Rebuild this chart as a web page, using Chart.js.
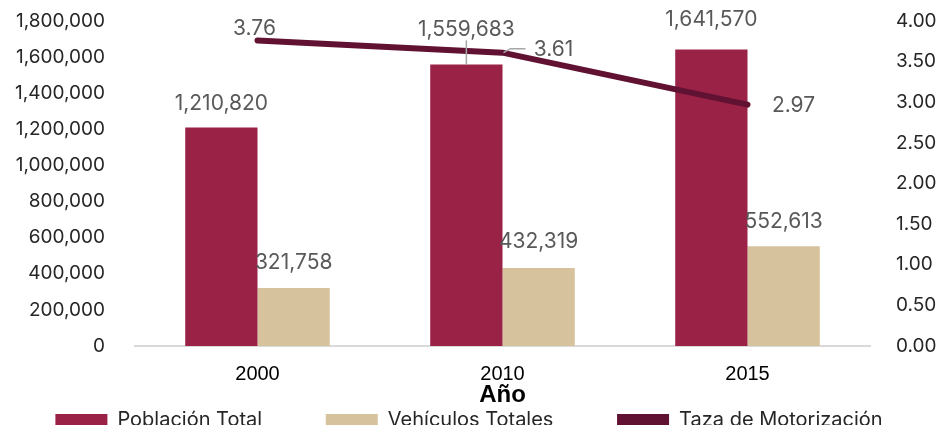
<!DOCTYPE html>
<html>
<head>
<meta charset="utf-8">
<script src="https://cdn.jsdelivr.net/npm/chart.js@4"></script>
<style>
  html, body { margin: 0; padding: 0; background: #fff; }
  #wrap { width: 938px; height: 425px; position: relative; }
</style>
</head>
<body>
<div id="wrap"><canvas id="motorChart"></canvas></div>
<script>
const years = ['2000', '2010', '2015'];
const poblacion = [1210820, 1559683, 1641570];
const vehiculos = [321758, 432319, 552613];
const tasa = [3.76, 3.61, 2.97];

const leftTicks = { min: 0, max: 1800000, step: 200000 };
const rightTicks = { min: 0, max: 4, step: 0.5 };

const tickFont = { family: 'Inter', size: 19 };
const labelFont = '21px Inter';

// label offsets (dx, dy) relative to each mark, plus optional leader line
const labelSpots = {
  0: [{ dx: 0, dy: -24 }, { dx: 0, dy: -35, leader: true }, { dx: 0, dy: -30 }],
  1: [{ dx: 0, dy: -25 }, { dx: 0, dy: -26 }, { dx: 0, dy: -25 }],
  2: [{ dx: -3, dy: -12 }, { dx: 51, dy: -3, side: true }, { dx: 46, dy: 1 }]
};

const dataLabels = {
  id: 'dataLabels',
  afterDatasetsDraw(chart) {
    const ctx = chart.ctx;
    ctx.save();
    ctx.font = labelFont;
    ctx.fillStyle = '#595959';
    ctx.textAlign = 'center';
    ctx.textBaseline = 'middle';
    chart.data.datasets.forEach((ds, di) => {
      const meta = chart.getDatasetMeta(di);
      meta.data.forEach((el, i) => {
        const spot = labelSpots[di][i];
        const v = ds.data[i];
        const txt = di === 2 ? v.toFixed(2) : v.toLocaleString('en-US');
        const x = el.x + spot.dx;
        const y = el.y + spot.dy;
        if (spot.leader) {
          ctx.strokeStyle = '#a6a6a6';
          ctx.lineWidth = 1.5;
          ctx.beginPath();
          ctx.moveTo(x, y + 11);
          ctx.lineTo(x, el.y);
          ctx.stroke();
        }
        if (spot.side) {
          ctx.strokeStyle = '#a6a6a6';
          ctx.lineWidth = 1.5;
          ctx.beginPath();
          ctx.moveTo(el.x + 1, el.y);
          ctx.lineTo(el.x + 8, el.y - 4);
          ctx.lineTo(x - 28, el.y - 4);
          ctx.stroke();
        }
        ctx.fillText(txt, x, y);
      });
    });
    ctx.restore();
  }
};

const fixSide = width => s => {
  s.width = width;
  s.paddingTop = 0;
  s.paddingBottom = 0;
};

const ctx = document.getElementById('motorChart').getContext('2d');

new Chart(ctx, {
  type: 'bar',
  data: {
    labels: years,
    datasets: [
      {
        label: 'Población Total',
        data: poblacion,
        backgroundColor: '#9B2247',
        yAxisID: 'y',
        order: 1,
        barPercentage: 1,
        categoryPercentage: 0.59
      },
      {
        label: 'Vehículos Totales',
        data: vehiculos,
        backgroundColor: '#D6C29C',
        yAxisID: 'y',
        order: 1,
        barPercentage: 1,
        categoryPercentage: 0.59
      },
      {
        type: 'line',
        label: 'Taza de Motorización',
        data: tasa,
        borderColor: '#611232',
        backgroundColor: '#611232',
        borderWidth: 6,
        borderCapStyle: 'round',
        pointRadius: 0,
        tension: 0,
        yAxisID: 'y1',
        order: 0
      }
    ]
  },
  plugins: [dataLabels],
  options: {
    responsive: true,
    maintainAspectRatio: false,
    animation: false,
    layout: {
      padding: { top: 21, bottom: -15, left: 0, right: 0 }
    },
    scales: {
      x: {
        grid: { display: false },
        border: { display: true, color: '#d9d9d9', width: 2 },
        ticks: {
          color: '#000',
          font: { family: 'Liberation Sans', size: 20 },
          padding: 8
        },
        title: {
          display: true,
          text: 'Año',
          color: '#000',
          font: { family: 'Liberation Sans', size: 24, weight: 'bold' },
          padding: { top: 0, bottom: 0 }
        },
        afterFit: s => { s.height = 64; }
      },
      y: {
        position: 'left',
        min: leftTicks.min,
        max: leftTicks.max,
        grid: { display: false },
        border: { display: false },
        ticks: {
          stepSize: leftTicks.step,
          color: '#262626',
          font: tickFont,
          padding: 22,
          callback: v => v.toLocaleString('en-US')
        },
        afterFit: fixSide(135)
      },
      y1: {
        position: 'right',
        min: rightTicks.min,
        max: rightTicks.max,
        grid: { display: false },
        border: { display: false },
        ticks: {
          stepSize: rightTicks.step,
          color: '#262626',
          font: tickFont,
          padding: 18,
          callback: v => v.toFixed(2)
        },
        afterFit: fixSide(68)
      }
    },
    plugins: {
      legend: {
        position: 'bottom',
        labels: {
          boxWidth: 52,
          boxHeight: 12,
          padding: 0,
          color: '#262626',
          font: { family: 'Inter', size: 20 },
          sort: (a, b) => a.datasetIndex - b.datasetIndex,
          generateLabels: chart => {
            const items = Chart.defaults.plugins.legend.labels.generateLabels(chart);
            items.forEach(it => {
              it.lineWidth = 0;
              if (it.datasetIndex < 2) it.text = it.text + '\u2003\u2003\u2003\u2009';
            });
            return items;
          }
        }
      },
      tooltip: { enabled: false }
    }
  }
});
</script>
</body>
</html>
